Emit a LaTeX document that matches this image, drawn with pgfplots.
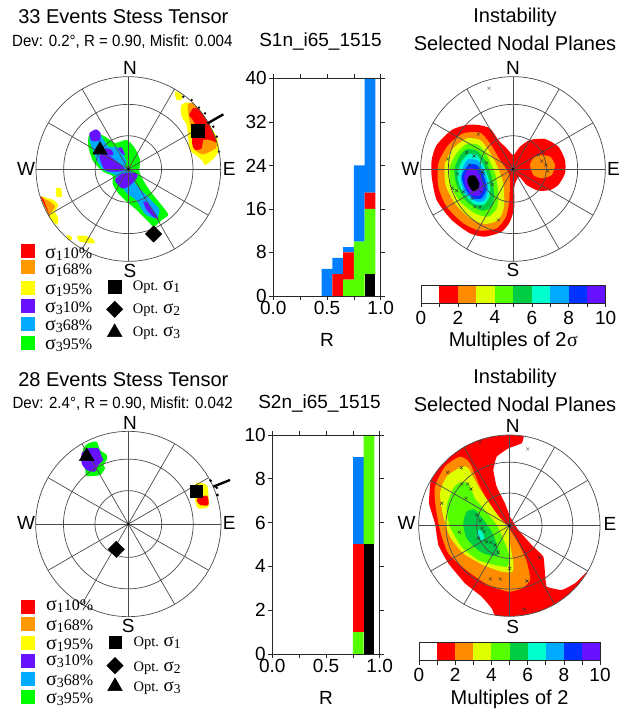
\documentclass[border=0pt]{standalone}
\usepackage{pgfplots}
\usepackage{pgfplotstable}
\usepackage{fontspec}
\pgfplotsset{compat=1.18}
\setmainfont{Liberation Sans}
\newfontfamily\serif{Liberation Serif}
\definecolor{cA}{HTML}{FF0000}\definecolor{cB}{HTML}{FF8C00}\definecolor{cC}{HTML}{DDFF00}
\definecolor{cD}{HTML}{55FF00}\definecolor{cE}{HTML}{00CC44}\definecolor{cF}{HTML}{00FFCC}
\definecolor{cG}{HTML}{00AAFF}\definecolor{cH}{HTML}{0033FF}\definecolor{cI}{HTML}{6611FF}
\definecolor{lO}{HTML}{FF9900}\definecolor{lY}{HTML}{FFFF00}\definecolor{lG}{HTML}{00FF00}
\definecolor{hB}{HTML}{0080FF}
\newcommand\fs[1]{\fontsize{#1}{#1}\selectfont}
\newcommand\blob[2]{\addplot[fill=#1,draw=none,smooth cycle,tension=0.4,forget plot] coordinates {#2};}
\newcommand\tblob[2]{\addplot[fill=#1,draw=none,smooth cycle,tension=0.2,forget plot] coordinates {#2};}
\newcommand\net[3]{%
\draw[g] (axis cs:#1,#2) circle[radius=#3pt/3];
\draw[g] (axis cs:#1,#2) circle[radius=0.7*#3pt/3];
\draw[g] (axis cs:#1,#2) circle[radius=0.36*#3pt/3];
\draw[g] (axis cs:#1,#2) ++(0:#3pt/3) -- ++(180:2*#3pt/3);
\draw[g] (axis cs:#1,#2) ++(30:#3pt/3) -- ++(210:2*#3pt/3);
\draw[g] (axis cs:#1,#2) ++(60:#3pt/3) -- ++(240:2*#3pt/3);
\draw[g] (axis cs:#1,#2) ++(90:#3pt/3) -- ++(270:2*#3pt/3);
\draw[g] (axis cs:#1,#2) ++(120:#3pt/3) -- ++(300:2*#3pt/3);
\draw[g] (axis cs:#1,#2) ++(150:#3pt/3) -- ++(330:2*#3pt/3);
\addplot[only marks,mark=*,mark size=1pt,black,forget plot] coordinates {(#1,#2)};
}
\newcommand\lab[4]{\node[font=\fs{#4}] at (axis cs:#1,#2) {#3};}
\newcommand\sig[1]{{\serif\fs{20}σ\raisebox{-2pt}{\fs{14}#1}}}
\newcommand\sigo[1]{{\serif\fs{19}σ\raisebox{-2pt}{\fs{13.5}#1}}}
\newcommand\pct[3]{\node[anchor=west,inner sep=0pt,font=\serif\fs{16}] at (axis cs:#1,#2) {#3};}
\newcommand\opt[3]{\node[anchor=west,inner sep=0pt,font=\serif\fs{14.5}] at (axis cs:#1,#2) {#3};}
\newcommand\swatch[3]{\addplot[only marks,mark=square*,mark size=6.5pt,color=#1,forget plot] coordinates {(#2,#3)};}
\newcommand\mk[2]{\addplot[only marks,mark=x,mark size=2.2pt,line width=0.45pt,color=#1,forget plot] coordinates {#2};}
\newcommand\dia[1]{\addplot[only marks,mark=square*,mark size=5.8pt,mark options={rotate=45},black,forget plot] coordinates {#1};}
\newcommand\cbar{%
\addplot[fill=cA,draw=none] coordinates {(1,0)(2,0)(2,1)(1,1)} --cycle;
\addplot[fill=cB,draw=none] coordinates {(2,0)(3,0)(3,1)(2,1)} --cycle;
\addplot[fill=cC,draw=none] coordinates {(3,0)(4,0)(4,1)(3,1)} --cycle;
\addplot[fill=cD,draw=none] coordinates {(4,0)(5,0)(5,1)(4,1)} --cycle;
\addplot[fill=cE,draw=none] coordinates {(5,0)(6,0)(6,1)(5,1)} --cycle;
\addplot[fill=cF,draw=none] coordinates {(6,0)(7,0)(7,1)(6,1)} --cycle;
\addplot[fill=cG,draw=none] coordinates {(7,0)(8,0)(8,1)(7,1)} --cycle;
\addplot[fill=cH,draw=none] coordinates {(8,0)(9,0)(9,1)(8,1)} --cycle;
\addplot[fill=cI,draw=none] coordinates {(9,0)(10,0)(10,1)(9,1)} --cycle;
}
\pgfplotsset{
 crop/.style n args={4}{scale only axis,hide axis,clip=false,y dir=reverse,anchor=north west,
   at={(#1pt,{(717-#2)*1pt})},width=#3pt,height=#4pt,xmin=0,xmax={3*#3},ymin=0,ymax={3*#4}},
 hist/.style={scale only axis,anchor=south west,width=107.4pt,xmin=0,xmax=1,ybar stacked,bar width=0.1,
   axis on top,clip mode=individual,tick align=outside,axis line style={line width=0.9pt,black!85},
   tick style={line width=0.6pt,black!85},major tick length=4pt,minor tick length=4pt,
   xtick={0,0.5,1},xticklabels={0.0,0.5,1.0},minor xtick={0.25,0.75},
   /pgf/number format/assume math mode=true,
   ticklabel style={font=\fs{19}},xlabel={R},xlabel style={font=\fs{19},yshift=-12pt},
   xticklabel style={yshift=2pt},yticklabel style={xshift=1pt}},
 cb/.style={scale only axis,anchor=north west,xmin=0,xmax=10,ymin=0,ymax=1,ytick=\empty,axis on top,
   xtick={0,2,4,6,8,10},xticklabels={0,2,4,6,8,10},minor xtick={1,3,5,7,9},xtick pos=bottom,
   tick align=outside,major tick length=4pt,minor tick length=4pt,
   axis line style={line width=0.9pt,black!85},tick style={line width=0.6pt,black!85},
   ticklabel style={font=\fs{19}},xlabel style={font=\fs{20},yshift=-1pt}}
}
\tikzset{g/.style={draw=black!70,line width=0.7pt}}
\pgfplotstableread{
R black green red blue
0.5 0 0 0 5
0.6 0 0 4 3
0.7 0 3 5 1
0.8 0 10 0 14
0.9 4 12 3 21
}\tabA
\pgfplotstableread{
R black green red blue
0.8 0 1 4 4
0.9 5 5 0 0
}\tabB
\begin{document}
\begin{tikzpicture}
\path[use as bounding box] (0,0) rectangle (623pt,717pt);
% ---------- top left: sigma-1 cluster, NE
\begin{axis}[crop={175}{85}{60}{85}]
\blob{lY}{(0,20)(20,28)(22,42)(5,45)}
\blob{lY}{(18,62)(40,52)(75,75)(100,115)(125,155)(132,195)(118,218)(92,240)(80,225)(62,210)(45,195)(40,165)(35,120)(20,95)}
\blob{lO}{(38,58)(55,55)(80,85)(100,120)(125,170)(122,190)(105,200)(85,208)(65,200)(55,175)(48,130)(42,100)}
\blob{cA}{(55,70)(72,72)(100,115)(125,170)(105,165)(85,165)(80,190)(60,195)(52,180)(52,150)(60,120)(50,100)(42,90)}
\addplot[only marks,mark=*,mark size=1pt,black,forget plot] coordinates {(25,35)(50,45)(72,68)(90,85)(115,125)(125,155)(132,200)};
\end{axis}
% ---------- top left: sigma-3 cluster, centre
\begin{axis}[crop={80}{120}{100}{110}]
\blob{lG}{(25,80)(40,125)(70,155)(98,168)(98,192)(115,220)(140,245)(170,270)(205,305)(222,320)(245,300)(265,285)(250,262)(232,240)(212,215)(192,185)(178,155)(180,120)(165,85)(140,60)(105,70)(90,60)(65,45)(28,45)}
\blob{cG}{(28,55)(60,45)(85,80)(110,80)(125,95)(140,125)(135,140)(165,165)(165,190)(208,235)(238,268)(228,295)(195,282)(168,240)(142,222)(130,205)(110,185)(105,165)(70,150)(50,120)(40,95)}
\blob{cI}{(28,40)(48,28)(62,40)(58,62)(35,62)}
\blob{cI}{(58,110)(75,100)(105,120)(135,148)(110,155)(75,150)}
\blob{cI}{(75,85)(95,90)(100,105)(85,105)}
\blob{cI}{(115,85)(125,82)(135,105)(125,100)}
\blob{cI}{(105,180)(130,160)(170,160)(170,175)(145,200)(125,205)}
\blob{cI}{(190,245)(205,250)(235,295)(220,290)(200,270)}
\end{axis}
% ---------- top left: rest
\begin{axis}[crop={0}{0}{240}{360}]
\blob{lY}{(122,590)(135,592)(160,600)(175,615)(165,635)(175,655)(170,675)(150,655)(135,625)}
\blob{lO}{(125,595)(150,605)(165,620)(150,640)(140,625)}
\blob{cA}{(122,590)(130,597)(150,650)(140,630)}
\blob{lY}{(168,565)(183,565)(185,590)(170,590)}
\blob{lY}{(200,705)(215,710)(215,720)(205,720)}
\blob{lY}{(232,708)(258,708)(280,718)(283,730)(240,725)}
\net{385}{507}{277}
\addplot[black,line width=2.4pt,forget plot] coordinates {(623,370)(670,343)};
\addplot[only marks,mark=square*,mark size=6.3pt,black,forget plot] coordinates {(594,393)};
\dia{(461,702)}
\addplot[only marks,mark=triangle*,mark size=8.5pt,black,forget plot] coordinates {(300,450)};
\lab{370}{50}{33 Events Stess Tensor}{20}
\lab{367}{126}{\scalebox{0.93}[1]{Dev: 0.2°, R = 0.90, Misfit: 0.004}}{16.2}
\lab{390}{205}{N}{19}\lab{390}{812}{S}{19}\lab{78}{508}{W}{19}\lab{688}{508}{E}{19}
\swatch{cA}{82}{752}\swatch{lO}{82}{801}\swatch{lY}{82}{862}\swatch{cI}{82}{916}\swatch{cG}{82}{971}\swatch{lG}{82}{1027}
\pct{135}{762}{\sig{1}10\%}\pct{135}{812}{\sig{1}68\%}\pct{135}{870}{\sig{1}95\%}
\pct{135}{925}{\sig{3}10\%}\pct{135}{980}{\sig{3}68\%}\pct{135}{1035}{\sig{3}95\%}
\addplot[only marks,mark=square*,mark size=6.3pt,black,forget plot] coordinates {(344,860)};
\dia{(344,928)}
\addplot[only marks,mark=triangle*,mark size=8.5pt,black,forget plot] coordinates {(344,997)};
\opt{398}{862}{Opt. \sigo{1}}\opt{398}{932}{Opt. \sigo{2}}\opt{398}{1000}{Opt. \sigo{3}}
\end{axis}
% ---------- top right: red and right lobe
\begin{axis}[crop={395}{0}{228}{360}]
\blob{cA}{(215,375)(250,375)(285,385)(310,420)(335,445)(355,465)(375,440)(405,420)(450,417)(490,440)(510,480)(510,520)(490,555)(465,570)(430,572)(395,555)(372,530)(358,560)(358,620)(345,665)(320,695)(270,710)(225,700)(170,660)(125,600)(110,530)(110,480)(125,435)(170,390)}
\blob{cB}{(435,465)(465,470)(480,495)(470,525)(440,535)(415,525)(405,495)(415,475)}
\end{axis}
% ---------- top right: nested contours
\begin{axis}[crop={430}{120}{90}{120}]
\blob{cB}{(100,40)(150,38)(180,70)(210,120)(238,165)(238,240)(228,290)(200,325)(150,332)(100,310)(50,260)(25,200)(25,130)(55,75)}
\blob{cC}{(110,55)(150,60)(175,90)(200,135)(220,190)(222,260)(205,300)(165,312)(120,295)(75,250)(47,195)(45,130)(70,85)}
\blob{cD}{(110,72)(145,75)(170,105)(195,160)(205,220)(200,265)(175,290)(135,280)(90,245)(62,195)(60,140)(80,100)}
\blob{cE}{(110,88)(140,92)(165,120)(185,170)(192,225)(185,260)(155,272)(110,245)(80,195)(73,150)(88,110)}
\blob{cF}{(115,103)(140,105)(160,135)(178,185)(178,230)(160,255)(130,250)(95,210)(82,165)(95,125)}
\blob{cG}{(115,118)(145,122)(165,160)(175,200)(165,240)(140,245)(105,220)(92,175)(102,135)}
\blob{cH}{(115,135)(140,135)(160,165)(170,205)(155,235)(130,235)(108,210)(95,170)}
\blob{cI}{(118,145)(140,150)(155,180)(160,210)(145,228)(125,225)(108,200)(103,170)}
\blob{black}{(120,167)(135,167)(148,190)(143,210)(128,213)(115,195)(112,178)}
\end{axis}
% ---------- top right: net
\begin{axis}[crop={395}{0}{228}{360}]
\net{354}{507}{277}
\mk{black!60}{(282,265)}
\mk{black!80}{(250,402)(158,477)(215,457)(237,468)(275,488)(223,495)(262,515)(265,520)(188,522)(292,553)(172,565)(185,572)(205,575)(258,575)(232,595)(240,620)(255,620)(310,660)(430,465)(445,455)(440,483)(453,495)(458,513)}
\lab{360}{52}{Instability}{20}
\lab{360}{130}{Selected Nodal Planes}{20}
\lab{354}{205}{N}{19}\lab{354}{810}{S}{19}\lab{46}{508}{W}{19}\lab{655}{508}{E}{19}
\end{axis}
% ---------- bottom left
\begin{axis}[crop={0}{360}{240}{357}]
\blob{lG}{(265,250)(290,245)(300,270)(320,285)(320,300)(310,315)(315,325)(300,345)(260,348)(255,325)(245,305)(250,265)}
\blob{cI}{(265,265)(295,265)(305,290)(310,300)(295,315)(285,335)(260,330)(245,310)(245,280)}
\blob{lY}{(590,368)(620,375)(625,400)(625,440)(595,445)(585,420)(580,390)}
\blob{cA}{(600,410)(622,408)(625,435)(600,435)(590,420)}
\net{385}{492}{278}
\addplot[black,line width=2.4pt,forget plot] coordinates {(640,380)(690,360)};
\addplot[only marks,mark=*,mark size=1.2pt,black,forget plot] coordinates {(632,362)(650,383)(652,405)};
\addplot[only marks,mark=square*,mark size=6.3pt,black,forget plot] coordinates {(588,393)};
\dia{(349,568)}
\addplot[only marks,mark=triangle*,mark size=8.5pt,black,forget plot] coordinates {(260,289)};
\lab{370}{60}{28 Events Stess Tensor}{20}
\lab{368}{132}{\scalebox{0.93}[1]{Dev: 2.4°, R = 0.90, Misfit: 0.042}}{16.2}
\lab{390}{188}{N}{19}\lab{385}{797}{S}{19}\lab{78}{490}{W}{19}\lab{688}{490}{E}{19}
\swatch{cA}{82}{739}\swatch{lO}{82}{792}\swatch{lY}{82}{849}\swatch{cI}{82}{902}\swatch{cG}{82}{956}\swatch{lG}{82}{1010}
\pct{138}{738}{\sig{1}10\%}\pct{138}{800}{\sig{1}68\%}\pct{138}{855}{\sig{1}95\%}
\pct{138}{905}{\sig{3}10\%}\pct{138}{963}{\sig{3}68\%}\pct{138}{1017}{\sig{3}95\%}
\addplot[only marks,mark=square*,mark size=6.3pt,black,forget plot] coordinates {(345,847)};
\dia{(345,917)}
\addplot[only marks,mark=triangle*,mark size=8.5pt,black,forget plot] coordinates {(345,979)};
\opt{400}{850}{Opt. \sigo{1}}\opt{400}{925}{Opt. \sigo{2}}\opt{400}{985}{Opt. \sigo{3}}
\end{axis}
% ---------- bottom right: red
\begin{axis}[crop={395}{360}{228}{357}]
\tblob{cA}{(385.5,228)(380,250)(340,265)(305,290)(295,330)(305,380)(330,430)(345,470)(370,510)(410,555)(445,590)(450,640)(455,680)(500,690)(540,670)(578.6,633)(551,672)(518,705)(479,733)(436,753)(390,765)(343,769)(300,766)(290,745)(260,710)(210,670)(160,610)(130,555)(120,490)(102,430)(107.4,361)(134.6,322)(168,289)(207,261)(250,241)(296,229)(343,225)}
\end{axis}
% ---------- bottom right: nested contours
\begin{axis}[crop={425}{430}{110}{170}]
\blob{cB}{(105,80)(135,100)(165,170)(205,240)(245,285)(280,340)(305,395)(315,450)(290,475)(250,485)(190,465)(130,425)(70,370)(45,300)(32,230)(30,170)(60,110)}
\blob{cC}{(110,110)(130,115)(160,170)(190,215)(225,265)(250,295)(255,340)(265,400)(262,425)(230,425)(175,405)(115,370)(75,320)(55,260)(45,190)(65,140)}
\blob{cD}{(105,158)(130,160)(150,205)(175,235)(215,285)(240,340)(255,385)(245,410)(210,405)(160,390)(110,350)(75,290)(65,230)(85,175)}
\blob{cE}{(125,245)(150,240)(180,275)(205,315)(222,370)(205,378)(165,365)(125,325)(115,280)}
\blob{cF}{(160,300)(172,305)(178,325)(170,330)(158,320)}
\end{axis}
% ---------- bottom right: net
\begin{axis}[crop={395}{360}{228}{357}]
\net{343}{497}{272}
\mk{black!60}{(398,267)}
\mk{black!80}{(255,245)(199,323)(158,337)(200,372)(218,372)(228,387)(213,415)(140,430)(245,465)(256,482)(261,505)(267,515)(193,517)(250,535)(275,545)(288,547)(300,555)(310,577)(344,625)(286,657)(316,657)(396,663)(434,593)(388,748)}
\lab{360}{55}{Instability}{20}
\lab{360}{133}{Selected Nodal Planes}{20}
\lab{353}{197}{N}{19}\lab{353}{800}{S}{19}\lab{35}{490}{W}{19}\lab{645}{492}{E}{19}
\end{axis}
% ---------- histograms
\begin{axis}[hist,at={(273.3pt,421pt)},height=217.7pt,ymin=0,ymax=40,ytick={0,8,16,24,32,40}]
\addplot[fill=black,draw=none] table[x=R,y=black] {\tabA};
\addplot[fill=cD,draw=none] table[x=R,y=green] {\tabA};
\addplot[fill=cA,draw=none] table[x=R,y=red] {\tabA};
\addplot[fill=hB,draw=none] table[x=R,y=blue] {\tabA};
\node[font=\fs{19}] at (axis description cs:0.44,1.17) {S1n\_i65\_1515};
\end{axis}
\begin{axis}[hist,at={(272.3pt,63pt)},height=219pt,ymin=0,ymax=10,ytick={0,2,4,6,8,10}]
\addplot[fill=black,draw=none] table[x=R,y=black] {\tabB};
\addplot[fill=cD,draw=none] table[x=R,y=green] {\tabB};
\addplot[fill=cA,draw=none] table[x=R,y=red] {\tabB};
\addplot[fill=hB,draw=none] table[x=R,y=blue] {\tabB};
\node[font=\fs{19}] at (axis description cs:0.44,1.145) {S2n\_i65\_1515};
\end{axis}
% ---------- colour bars
\begin{axis}[cb,at={(421pt,432pt)},width=184.7pt,height=18.3pt,xlabel={Multiples of 2\hspace{0.5pt}{\serif σ}}]
\cbar
\end{axis}
\begin{axis}[cb,at={(419pt,75pt)},width=181pt,height=18.7pt,xlabel={Multiples of 2}]
\cbar
\end{axis}
\end{tikzpicture}
\end{document}
